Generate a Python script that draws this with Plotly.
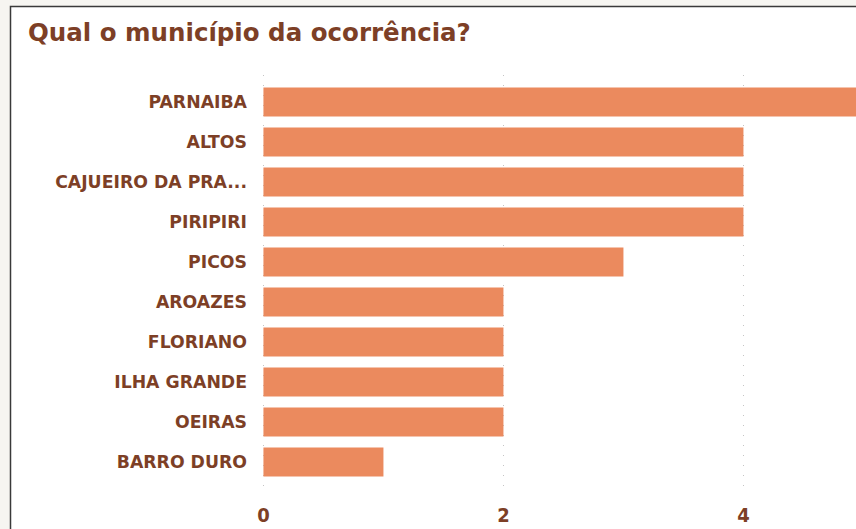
import plotly.graph_objects as go

# Municípios e número de ocorrências
MUNICIPIOS = [
    "PARNAIBA",
    "ALTOS",
    "CAJUEIRO DA PRA...",
    "PIRIPIRI",
    "PICOS",
    "AROAZES",
    "FLORIANO",
    "ILHA GRANDE",
    "OEIRAS",
    "BARRO DURO",
]
OCORRENCIAS = [5, 4, 4, 4, 3, 2, 2, 2, 2, 1]
TICKS_X = [0, 2, 4]

MARROM = "#7d3f26"
LARANJA = "#eb8a5e"

# Área do gráfico em pixels (para posicionar o painel)
L, R, T, B = 262, 0, 75, 34
W, H = 856, 529
PW = W - L - R
PH = H - T - B


def main():
    fig = go.Figure()

    fig.add_trace(
        go.Bar(
            x=OCORRENCIAS,
            y=MUNICIPIOS,
            orientation="h",
            marker_color=LARANJA,
            marker_line_width=0,
            width=0.73,
        )
    )

    # Painel branco com borda, sobre o fundo cinza claro
    fig.add_shape(
        type="rect",
        xref="paper",
        yref="paper",
        x0=(10.5 - L) / PW,
        x1=1.2,
        y0=-0.3,
        y1=1 + (T - 6.5) / PH,
        fillcolor="white",
        line_color="#3a3a3a",
        line_width=1.5,
        layer="below",
    )

    fig.update_xaxes(
        range=[-0.012, PW / 120 - 0.012],
        tickvals=TICKS_X,
        showgrid=True,
        gridcolor="#c4c4c4",
        griddash="1px,9px",
        gridwidth=1,
        zeroline=False,
        showline=False,
        ticks="",
        tickfont=dict(family="DejaVu Sans Condensed", size=20, color=MARROM, weight="bold"),
        ticklabelstandoff=6,
    )

    fig.update_yaxes(
        categoryorder="array",
        categoryarray=MUNICIPIOS,
        range=[9.825, -0.675],
        showgrid=False,
        zeroline=False,
        showline=False,
        ticks="",
        tickfont=dict(family="DejaVu Sans", size=17.3, color=MARROM, weight="bold"),
        ticklabelstandoff=14,
    )

    fig.update_layout(
        width=W,
        height=H,
        margin=dict(l=L, r=R, t=T, b=B),
        paper_bgcolor="#f6f5f1",
        plot_bgcolor="rgba(0,0,0,0)",
        showlegend=False,
        title=dict(
            text="<b>Qual o município da ocorrência?</b>",
            x=28 / W,
            xanchor="left",
            xref="container",
            y=1 - 32 / H,
            yanchor="middle",
            yref="container",
            font=dict(family="DejaVu Sans", size=24.5, color=MARROM),
        ),
    )

    # Sem margem na página, para o gráfico ocupar a janela inteira
    fig.write_html(
        "out.html",
        config={"displayModeBar": False},
        post_script="document.body.style.margin='0';document.body.style.background='#f6f5f1';",
    )


if __name__ == "__main__":
    main()
